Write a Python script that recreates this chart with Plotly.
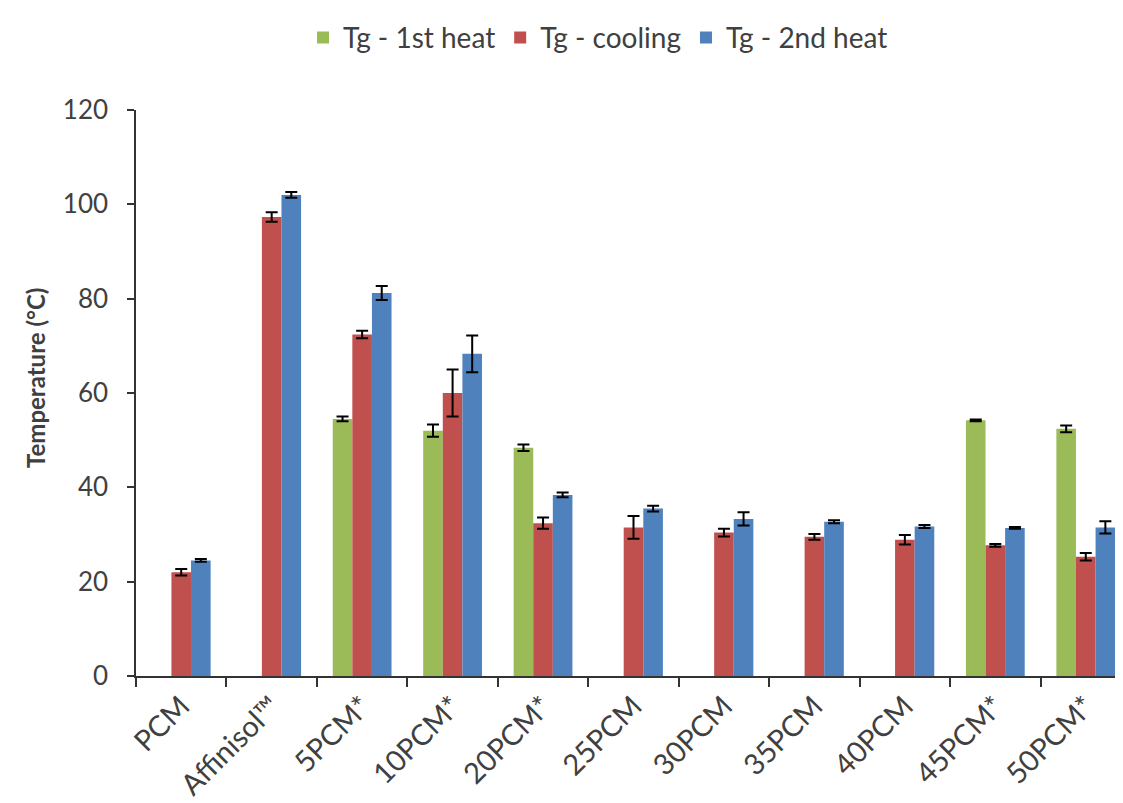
import plotly.graph_objects as go

categories = ["PCM", "Affinisol\u2122", "5PCM*", "10PCM*", "20PCM*", "25PCM",
              "30PCM", "35PCM", "40PCM", "45PCM*", "50PCM*"]
heat1 = [None, None, 54.5, 52.0, 48.4, None, None, None, None, 54.2, 52.4]
heat1_err = [None, None, 0.5, 1.3, 0.7, None, None, None, None, 0.2, 0.7]
cooling = [22.0, 97.3, 72.4, 60.0, 32.4, 31.5, 30.4, 29.5, 28.9, 27.7, 25.3]
cooling_err = [0.7, 1.0, 0.8, 5.0, 1.2, 2.4, 0.8, 0.6, 1.0, 0.3, 0.8]
heat2 = [24.5, 102.0, 81.2, 68.3, 38.4, 35.5, 33.3, 32.7, 31.7, 31.4, 31.5]
heat2_err = [0.3, 0.6, 1.5, 3.9, 0.5, 0.6, 1.4, 0.3, 0.3, 0.2, 1.3]

series = [
    ("Tg - 1st heat", heat1, heat1_err, "#9BBB59"),
    ("Tg - cooling", cooling, cooling_err, "#C0504D"),
    ("Tg - 2nd heat", heat2, heat2_err, "#4F81BD"),
]

font = "Lato, 'Open Sans', sans-serif"
txt = "#404040"
fig = go.Figure()
for name, vals, errs, color in series:
    fig.add_trace(go.Bar(
        name=name, x=categories, y=vals, marker_color=color,
        marker_line_width=0,
        error_y=dict(type="data", array=errs, visible=True, color="black",
                     thickness=2, width=6),
    ))

fig.add_annotation(
    text="<b>Temperature (°C)</b>", textangle=-90, showarrow=False,
    xref="paper", yref="paper", x=-0.1015, y=0.5265, xanchor="center", yanchor="middle",
    font=dict(family=font, size=24, color=txt),
)

fig.update_layout(
    barmode="group", bargap=0.35, bargroupgap=0,
    width=1123, height=803,
    margin=dict(l=128, r=0, t=102, b=135),
    paper_bgcolor="white", plot_bgcolor="white",
    font=dict(family=font, size=26, color=txt),
    legend=dict(orientation="h", xref="container", yref="container",
                x=0.5254, xanchor="center", y=0.963, yanchor="middle",
                font=dict(size=28, color=txt), traceorder="normal",
                itemwidth=30, tracegroupgap=0),
    xaxis=dict(showline=True, linecolor="#333", linewidth=1.5, ticks="outside",
               tickson="boundaries", ticklen=9, tickcolor="#333", tickwidth=1.5,
               tickangle=-45, tickfont=dict(size=29, color=txt), showgrid=False,
               automargin=False),
    yaxis=dict(range=[0, 120], dtick=20, showline=True, linecolor="#333", linewidth=1.5,
               ticks="outside", ticklen=7, tickcolor="#333", tickwidth=1.5,
               ticklabelstandoff=14,
               showgrid=False, zeroline=False, tickfont=dict(size=26, color=txt),
               automargin=False),
)

fig.write_html("out.html")
